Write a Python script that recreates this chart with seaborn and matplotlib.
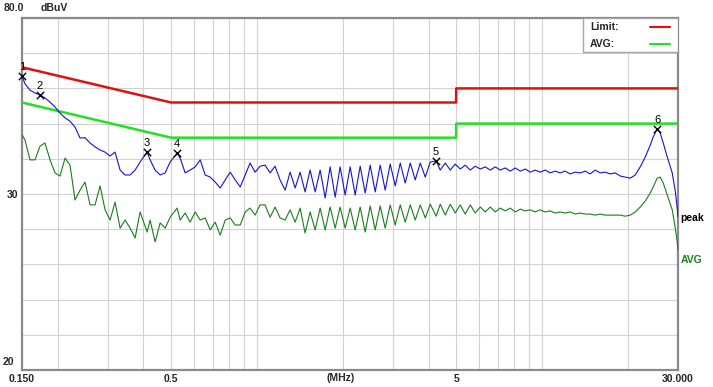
import matplotlib
matplotlib.use("Agg")
import matplotlib.pyplot as plt
from matplotlib.patches import Rectangle
import pandas as pd
import seaborn as sns

freq_mhz = [
    0.150, 0.1537, 0.160, 0.1666, 0.1735, 0.1806, 0.1881, 0.1959, 0.2039, 0.2124,
    0.2211, 0.2302, 0.2397, 0.2496, 0.2599, 0.2706, 0.2818, 0.2934, 0.3055, 0.3181,
    0.3313, 0.3449, 0.3592, 0.3740, 0.3894, 0.4120, 0.4222, 0.4396, 0.4577, 0.4766,
    0.4963, 0.5250, 0.5381, 0.5603, 0.5834, 0.6075, 0.6325, 0.6586, 0.6858, 0.7141,
    0.7435, 0.7742, 0.8061, 0.8394, 0.8740, 0.9101, 0.9464, 0.9855, 1.026, 1.068,
    1.113, 1.158, 1.206, 1.256, 1.308, 1.362, 1.418, 1.476, 1.537, 1.601,
    1.667, 1.736, 1.807, 1.882, 1.959, 2.040, 2.124, 2.212, 2.303, 2.398,
    2.497, 2.600, 2.707, 2.819, 2.935, 3.057, 3.183, 3.314, 3.451, 3.593,
    3.741, 3.896, 4.056, 4.254, 4.397, 4.578, 4.767, 4.963, 5.168, 5.381,
    5.603, 5.834, 6.075, 6.325, 6.586, 6.858, 7.141, 7.435, 7.742, 8.061,
    8.394, 8.740, 9.101, 9.464, 9.855, 10.26, 10.68, 11.13, 11.58, 12.06,
    12.56, 13.08, 13.62, 14.18, 14.76, 15.37, 16.01, 16.68, 17.36, 18.07,
    18.82, 19.59, 20.40, 21.24, 22.11, 23.03, 23.98, 24.55, 25.36, 25.98,
    26.63, 27.51, 28.63, 29.31, 29.81, 30.0,
]

peak_dbuv = [
    63.5, 61.3, 59.5, 58.7, 58.1, 57.3, 56.1, 54.7, 53.0, 51.6,
    50.7, 49.0, 45.9, 46.0, 44.5, 43.4, 42.5, 41.9, 40.8, 41.9,
    36.8, 35.4, 35.4, 36.8, 39.1, 41.9, 39.7, 36.8, 35.4, 36.0,
    39.1, 41.6, 40.2, 36.0, 36.8, 37.7, 39.7, 35.4, 34.8, 33.4,
    31.7, 34.0, 36.2, 34.0, 32.0, 35.4, 38.8, 36.2, 37.9, 38.2,
    36.0, 37.9, 34.0, 31.1, 36.2, 31.7, 36.2, 30.6, 36.8, 30.6,
    36.8, 28.9, 37.7, 29.1, 37.7, 29.7, 37.7, 29.7, 37.9, 30.3,
    38.2, 30.6, 38.2, 31.1, 38.5, 32.3, 38.8, 33.1, 38.8, 34.0,
    38.8, 34.8, 39.1, 39.4, 36.8, 38.8, 36.8, 38.5, 37.1, 38.2,
    36.8, 37.9, 37.1, 37.7, 36.8, 37.7, 36.8, 37.4, 36.5, 37.4,
    36.5, 37.1, 36.2, 36.8, 36.2, 36.8, 36.0, 36.5, 36.0, 36.5,
    35.7, 36.2, 36.0, 36.5, 35.7, 36.8, 36.0, 36.2, 35.7, 36.0,
    35.1, 34.8, 34.5, 35.4, 37.7, 40.5, 43.9, 46.2, 48.5, 47.3,
    44.5, 40.5, 36.0, 31.1, 26.1, 23.5,
]

avg_dbuv = [
    46.8, 45.3, 39.7, 39.7, 43.6, 44.5, 39.7, 36.0, 35.1, 40.2,
    38.2, 28.3, 31.1, 33.4, 26.9, 26.9, 32.3, 25.5, 22.6, 27.7,
    20.3, 22.6, 20.3, 17.5, 24.9, 19.2, 22.6, 16.4, 21.8, 20.3,
    23.4, 26.0, 22.6, 24.6, 22.0, 24.9, 22.6, 23.2, 19.8, 22.0,
    18.3, 22.6, 23.2, 21.2, 21.2, 24.9, 26.0, 24.0, 26.9, 26.9,
    23.4, 26.3, 23.2, 22.6, 25.5, 22.0, 26.0, 18.9, 24.9, 19.8,
    26.0, 19.8, 26.3, 20.3, 26.3, 20.3, 26.0, 19.8, 26.3, 19.2,
    26.6, 19.8, 26.6, 20.3, 26.9, 21.2, 26.9, 22.0, 26.9, 22.6,
    26.9, 23.2, 27.1, 23.7, 27.1, 24.0, 27.1, 24.6, 26.9, 24.3,
    26.9, 24.6, 26.3, 24.9, 26.3, 24.9, 26.0, 25.2, 26.0, 24.9,
    25.7, 25.2, 25.5, 24.9, 25.5, 24.9, 25.2, 24.6, 24.9, 24.6,
    24.9, 24.3, 24.6, 24.3, 24.3, 24.0, 24.3, 24.0, 24.0, 24.0,
    24.0, 23.7, 24.0, 24.9, 26.3, 28.0, 30.3, 32.0, 34.5, 34.8,
    33.1, 29.7, 25.5, 20.6, 16.4, 14.1,
]

# limit lines
limit_freq = [0.15, 0.5, 5.0, 5.0, 30.0]
limit_qp = [66, 56, 56, 60, 60]
limit_avg = [56, 46, 46, 50, 50]

# marked peaks
marker_freq = [0.150, 0.1735, 0.4120, 0.5250, 4.254, 25.36]
marker_level = [63.5, 58.1, 41.9, 41.6, 39.4, 48.5]
marker_names = ["1", "2", "3", "4", "5", "6"]

x_tick_vals = [0.15, 0.5, 5, 30]
x_tick_labels = ["0.150", "0.5", "5", "30.000"]
x_minor_vals = [0.2, 0.3, 0.4, 0.6, 0.7, 0.8, 0.9, 1, 2, 3, 4, 6, 7, 8, 9, 10, 20]
y_grid_vals = [-20, -10, 0, 10, 20, 30, 40, 50, 60, 70, 80]

sns.set_style("white")
plt.rcParams["font.family"] = ["Liberation Sans", "DejaVu Sans"]

fig = plt.figure(figsize=(7.13, 3.87), dpi=100)
ax = fig.add_axes([22 / 713, 17 / 387, 656 / 713, 352 / 387])

df = pd.DataFrame({"freq": freq_mhz, "peak": peak_dbuv, "avg": avg_dbuv})
lim = pd.DataFrame({"freq": limit_freq, "qp": limit_qp, "avg": limit_avg})

sns.lineplot(data=lim, x="freq", y="qp", ax=ax, color="#E01010", lw=1.8,
             estimator=None, sort=False, zorder=3)
sns.lineplot(data=lim, x="freq", y="avg", ax=ax, color="#22E022", lw=1.8,
             estimator=None, sort=False, zorder=3)
sns.lineplot(data=df, x="freq", y="avg", ax=ax, color="#1C7C1C", lw=0.8,
             estimator=None, sort=False, zorder=4)
sns.lineplot(data=df, x="freq", y="peak", ax=ax, color="#1414D0", lw=0.8,
             estimator=None, sort=False, zorder=4)

mk = pd.DataFrame({"freq": marker_freq, "level": marker_level})
sns.scatterplot(data=mk, x="freq", y="level", ax=ax, marker="x", color="black",
                s=28, linewidth=1.0, zorder=6, clip_on=False)
for f, v, name in zip(marker_freq, marker_level, marker_names):
    ax.annotate(name, (f, v), xytext=(0, 3), textcoords="offset points",
                ha="center", va="bottom", fontsize=8, color="black", zorder=6,
                annotation_clip=False)

ax.set_xscale("log")
ax.set_xlim(0.15, 30)
ax.set_ylim(-20, 80)
ax.set_xticks(x_tick_vals)
ax.set_xticklabels(x_tick_labels, fontsize=7.5, fontweight="bold")
ax.set_xticks(x_minor_vals, minor=True)
ax.set_xticklabels([], minor=True)
ax.set_yticks(y_grid_vals)
ax.set_yticklabels(["" if v != 30 else "30" for v in y_grid_vals],
                   fontsize=7.5, fontweight="bold")
ax.tick_params(which="both", length=0, pad=3)
ax.grid(True, which="both", color="#D2D2D2", lw=0.8)
ax.set_xlabel("")
ax.set_ylabel("")
for sp in ax.spines.values():
    sp.set_color("#8A8A8A")
    sp.set_linewidth(1.6)

# axis annotations
ax.text(-0.028, 1.028, "80.0", transform=ax.transAxes, ha="left", va="center",
        fontsize=7.5, fontweight="bold")
ax.text(0.028, 1.028, "dBuV", transform=ax.transAxes, ha="left", va="center",
        fontsize=7.5, fontweight="bold")
ax.text(-0.012, 0.022, "20", transform=ax.transAxes, ha="right", va="center",
        fontsize=7.5, fontweight="bold")
ax.text(0.485, -0.024, "(MHz)", transform=ax.transAxes, ha="center", va="center",
        fontsize=7.5, fontweight="bold")

# trace names at the right edge
ax.text(1.004, 0.431, "peak", transform=ax.transAxes, ha="left", va="center",
        fontsize=7.5, fontweight="bold", color="black")
ax.text(1.004, 0.313, "AVG", transform=ax.transAxes, ha="left", va="center",
        fontsize=7.5, fontweight="bold", color="#1C7C1C")

# legend box
ax.add_patch(Rectangle((0.855, 0.903), 0.145, 0.097, transform=ax.transAxes,
                       facecolor="white", edgecolor="#A8A8A8", lw=1.0, zorder=7))
ax.text(0.866, 0.974, "Limit:", transform=ax.transAxes, ha="left", va="center",
        fontsize=7.5, fontweight="bold", zorder=8)
ax.text(0.866, 0.927, "AVG:", transform=ax.transAxes, ha="left", va="center",
        fontsize=7.5, fontweight="bold", zorder=8)
ax.plot([0.957, 0.988], [0.974, 0.974], transform=ax.transAxes, color="#E01010",
        lw=1.5, zorder=8)
ax.plot([0.957, 0.988], [0.925, 0.925], transform=ax.transAxes, color="#22E022",
        lw=1.5, zorder=8)

if ax.get_legend() is not None:
    ax.get_legend().remove()

fig.savefig("out.png", dpi=100)
